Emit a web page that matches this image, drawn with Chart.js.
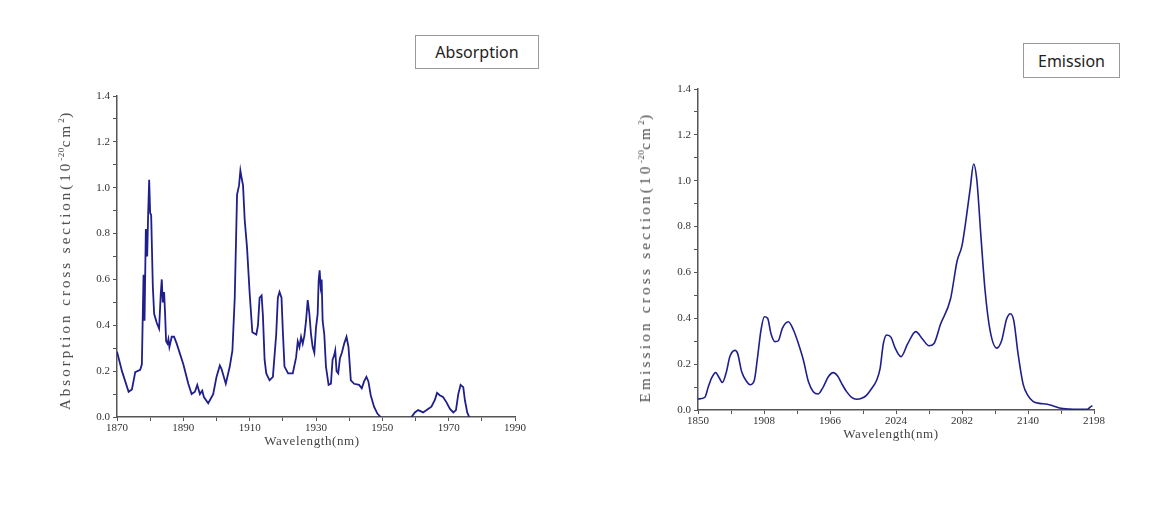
<!DOCTYPE html>
<html>
<head>
<meta charset="utf-8">
<script src="https://cdn.jsdelivr.net/npm/chart.js@4.4.0/dist/chart.umd.min.js"></script>
<style>
  body { margin: 0; background: #fff; width: 1174px; height: 506px; position: relative; overflow: hidden; font-family: 'Liberation Serif', serif; }
  .wrap { position: absolute; }
  .box { position: absolute; border: 1px solid #9a9a9a; box-sizing: border-box; font-family: 'Noto Sans', sans-serif; font-size: 16px; color: #222; display: flex; align-items: center; justify-content: center; }
  .ytitle { position: absolute; white-space: nowrap; font-size: 15px; letter-spacing: 3px; color: #444; transform: translate(-50%, -50%) rotate(-90deg); }
  .xtitle { position: absolute; white-space: nowrap; font-size: 13px; letter-spacing: 0.6px; color: #444; transform: translate(-50%, -50%); }
  sup { font-size: 9px; letter-spacing: 0.5px; }
</style>
</head>
<body>

<div class="box" style="left:415px;top:35px;width:124px;height:34px;">Absorption</div>
<div class="box" style="left:1023px;top:43px;width:97px;height:35px;">Emission</div>

<div class="wrap" style="left:40px;top:86px;"><canvas id="absChart" width="500" height="370"></canvas></div>
<div class="wrap" style="left:620px;top:79px;"><canvas id="emChart" width="500" height="370"></canvas></div>

<div class="ytitle" style="left:65px;top:260px;">Absorption cross section(10<sup>-20</sup>cm<sup>2</sup>)</div>
<div class="ytitle" style="left:645px;top:257px;letter-spacing:3.3px;">Emission cross section(10<sup>-20</sup>cm<sup>2</sup>)</div>
<div class="xtitle" style="left:312px;top:441px;">Wavelength(nm)</div>
<div class="xtitle" style="left:891px;top:434px;">Wavelength(nm)</div>

<script>
// Absorption spectrum (wavelength in nm, cross section in 1e-20 cm2)
const absWave = [
  1870, 1871.5, 1873.5, 1874.5, 1875.5, 1877, 1877.5, 1878, 1878.3, 1878.7,
  1879.1, 1879.4, 1879.7, 1880, 1880.3, 1880.8, 1881.2, 1882, 1882.7, 1883.2,
  1883.5, 1883.8, 1884.2, 1884.5, 1884.8, 1885.2, 1885.5, 1885.8, 1886.5, 1887.2,
  1888, 1890, 1891.5, 1892.5, 1893.5, 1894.2, 1895, 1895.7, 1896.2, 1897.5,
  1899, 1900, 1901, 1901.5, 1902.8, 1904, 1904.8, 1905.5, 1906.2, 1906.8,
  1907.2, 1907.6, 1908, 1908.5, 1909.2, 1910, 1910.8, 1912, 1912.5, 1913,
  1913.6, 1914, 1914.5, 1915, 1916, 1917, 1918, 1918.5, 1919, 1919.6,
  1920, 1920.5, 1921.6, 1923, 1924, 1924.5, 1925, 1925.5, 1926, 1926.5,
  1927, 1927.5, 1928, 1928.5, 1929, 1929.5, 1930, 1930.5, 1930.8, 1931.1,
  1931.4, 1931.7, 1932, 1932.5, 1933, 1933.8, 1934.5, 1935, 1935.5, 1935.8,
  1936.2, 1936.7, 1937.2, 1937.8, 1938.5, 1939.2, 1939.8, 1940.5, 1941.5, 1943,
  1943.8, 1944.5, 1945.2, 1945.8, 1946.5, 1947.5, 1948.5, 1949.5, 1954, 1958.8,
  1959.8, 1960.8, 1962.3, 1963.8, 1964.8, 1965.8, 1966.5, 1967.3, 1968.3, 1969.3,
  1970.4, 1971.4, 1972.2, 1972.9, 1973.6, 1974.4, 1974.9, 1975.6, 1976.2
];
const absValues = [
  0.285, 0.20, 0.11, 0.12, 0.196, 0.206, 0.23, 0.62, 0.42, 0.82,
  0.70, 0.89, 1.035, 0.89, 0.88, 0.57, 0.45, 0.41, 0.385, 0.54,
  0.60, 0.50, 0.545, 0.45, 0.33, 0.32, 0.34, 0.305, 0.35, 0.35,
  0.32, 0.23, 0.145, 0.10, 0.11, 0.14, 0.10, 0.115, 0.087, 0.06,
  0.10, 0.175, 0.225, 0.21, 0.145, 0.22, 0.29, 0.52, 0.97, 1.01,
  1.075, 1.04, 1.01, 0.86, 0.74, 0.54, 0.37, 0.36, 0.40, 0.52,
  0.53, 0.44, 0.25, 0.19, 0.16, 0.175, 0.36, 0.52, 0.545, 0.52,
  0.375, 0.22, 0.19, 0.19, 0.26, 0.33, 0.305, 0.35, 0.32, 0.355,
  0.42, 0.51, 0.45, 0.36, 0.305, 0.28, 0.39, 0.45, 0.595, 0.64,
  0.57, 0.60, 0.42, 0.36, 0.22, 0.14, 0.145, 0.25, 0.27, 0.29,
  0.20, 0.19, 0.255, 0.28, 0.32, 0.35, 0.305, 0.16, 0.145, 0.14,
  0.125, 0.155, 0.175, 0.155, 0.095, 0.045, 0.015, 0, null, 0,
  0.02, 0.03, 0.02, 0.035, 0.045, 0.073, 0.105, 0.095, 0.087, 0.065,
  0.035, 0.02, 0.03, 0.10, 0.14, 0.13, 0.073, 0.02, 0
];

// Emission spectrum
const emWave = [
  1850, 1856, 1859, 1862, 1865.5, 1868.5, 1871.4, 1875, 1878, 1882.5,
  1884.8, 1888.4, 1892.8, 1895.7, 1899.5, 1902.4, 1905.4, 1908.3, 1911.2, 1914.1,
  1917.7, 1920.6, 1924.1, 1929.4, 1933.8, 1938.2, 1942.6, 1947, 1951.3, 1955.7,
  1960, 1964.5, 1968.9, 1972.7, 1976.2, 1980.6, 1985, 1989.4, 1993.8, 1998.2,
  2002.6, 2007, 2010, 2012.9, 2015.8, 2019.7, 2023, 2028.4, 2034.2, 2041.4,
  2047.2, 2053, 2057.4, 2063.2, 2071.9, 2077.7, 2082, 2085.8, 2089.3, 2092.2,
  2095.1, 2098.5, 2102.3, 2106.7, 2112.5, 2116.8, 2121.2, 2124.6, 2127.5, 2131.3,
  2135.7, 2140, 2144.4, 2150.2, 2156, 2161.8, 2167.6, 2176.3, 2185, 2192.2,
  2194.5, 2196.6
];
const emValues = [
  0.048, 0.055, 0.10, 0.14, 0.163, 0.142, 0.12, 0.167, 0.233, 0.26,
  0.247, 0.167, 0.124, 0.11, 0.13, 0.233, 0.35, 0.407, 0.40, 0.334,
  0.298, 0.302, 0.356, 0.385, 0.35, 0.29, 0.218, 0.124, 0.08, 0.07,
  0.10, 0.145, 0.163, 0.148, 0.116, 0.08, 0.055, 0.047, 0.051, 0.065,
  0.094, 0.13, 0.18, 0.29, 0.327, 0.317, 0.273, 0.233, 0.288, 0.342,
  0.31, 0.28, 0.29, 0.375, 0.484, 0.65, 0.717, 0.84, 0.97, 1.073,
  1.0, 0.767, 0.52, 0.346, 0.27, 0.302, 0.397, 0.42, 0.39, 0.244,
  0.113, 0.0625, 0.038, 0.029, 0.026, 0.019, 0.009, 0.004, 0.003, 0.003,
  0.012, 0.019
];

// Axis ticks (major + minor) and their labels
const absTicks = [1870, 1880, 1890, 1900, 1910, 1920, 1930, 1940, 1950, 1960, 1970, 1980, 1990];
const absTickLabels = ['1870', '', '1890', '', '1910', '', '1930', '', '1950', '', '1970', '', '1990'];
const emTicks = [1850, 1879, 1908, 1937, 1966, 1995, 2024, 2053, 2082, 2111, 2140, 2169, 2198];
const emTickLabels = ['1850', '', '1908', '', '1966', '', '2024', '', '2082', '', '2140', '', '2198'];
const yTicks = [0, 0.1, 0.2, 0.3, 0.4, 0.5, 0.6, 0.7, 0.8, 0.9, 1.0, 1.1, 1.2, 1.3, 1.4];
const yTickLabels = ['0.0', '', '0.2', '', '0.4', '', '0.6', '', '0.8', '', '1.0', '', '1.2', '', '1.4'];

const lineColor = '#1f1f8c';
const axisColor = '#555';
const tickFont = { family: "'Liberation Serif', serif", size: 11 };

function makeSpectrum(id, wave, values, xTicks, xLabels, yWidth, rightPad, tension, width) {
    const points = wave.map((w, i) => ({ x: w, y: values[i] }));
    new Chart(document.getElementById(id), {
        type: 'line',
        data: {
            datasets: [{
                data: points,
                borderColor: lineColor,
                borderWidth: width,
                pointRadius: 0,
                tension: tension,
                cubicInterpolationMode: tension ? 'monotone' : 'default',
                spanGaps: false,
                fill: false
            }]
        },
        options: {
            responsive: false,
            animation: false,
            layout: { padding: { top: 10, right: rightPad, left: 0, bottom: 0 } },
            plugins: { legend: { display: false }, tooltip: { enabled: false } },
            scales: {
                x: {
                    type: 'linear',
                    min: xTicks[0],
                    max: xTicks[xTicks.length - 1],
                    afterBuildTicks: s => { s.ticks = xTicks.map(v => ({ value: v })); },
                    afterFit: s => { s.height = 39; },
                    ticks: {
                        autoSkip: false, maxRotation: 0, padding: 1,
                        color: '#333', font: tickFont,
                        callback: (v, i) => xLabels[i]
                    },
                    grid: { drawOnChartArea: false, drawTicks: true, tickLength: 4, color: axisColor },
                    border: { color: axisColor, width: 1.5 }
                },
                y: {
                    min: 0,
                    max: 1.4,
                    afterBuildTicks: s => { s.ticks = yTicks.map(v => ({ value: v })); },
                    afterFit: s => { s.width = yWidth; },
                    ticks: {
                        autoSkip: false, padding: 3,
                        color: '#333', font: tickFont,
                        callback: (v, i) => yTickLabels[i]
                    },
                    grid: { drawOnChartArea: false, drawTicks: true, tickLength: 4, color: axisColor },
                    border: { color: axisColor, width: 1.5 }
                }
            }
        }
    });
}

makeSpectrum('absChart', absWave, absValues, absTicks, absTickLabels, 77, 25, 0, 1.8);
makeSpectrum('emChart', emWave, emValues, emTicks, emTickLabels, 78, 26, 0.4, 1.6);
</script>
</body>
</html>
